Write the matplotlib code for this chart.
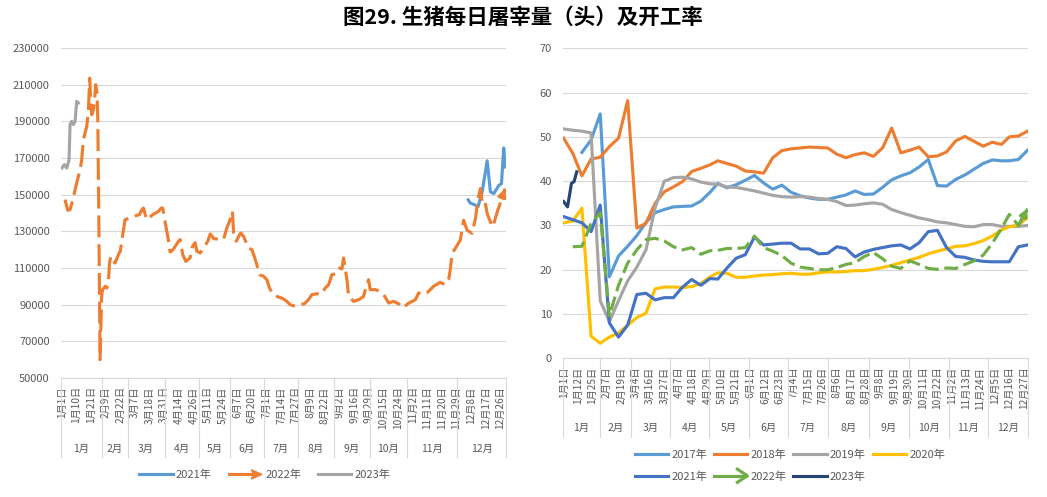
import matplotlib
matplotlib.use('Agg')
import matplotlib.pyplot as plt
import numpy as np
from matplotlib.legend_handler import HandlerBase
from matplotlib.lines import Line2D
from matplotlib.patches import Polygon

plt.rcParams['font.family'] = ['Noto Sans CJK SC', 'DejaVu Sans']

nan = np.nan
TXT = '#595959'
GRID = '#D9D9D9'

# ---------------- left: daily slaughter (head) ----------------
left_dates = ['1月1日', '1月10日', '1月21日', '2月9日', '2月22日', '3月7日', '3月18日',
              '3月31日', '4月14日', '4月26日', '5月11日', '5月24日', '6月7日', '6月20日',
              '7月1日', '7月14日', '7月27日', '8月9日', '8月22日', '9月2日', '9月16日',
              '9月29日', '10月15日', '10月24日', '11月2日', '11月11日', '11月20日',
              '11月29日', '12月8日', '12月17日', '12月26日']
months = ['1月', '2月', '3月', '4月', '5月', '6月', '7月', '8月', '9月', '10月', '11月', '12月']
left_month_edges = [-0.5, 24.5, 40.5, 63.5, 84.5, 103.5, 124.5, 145.5, 167.5, 189.5,
                    212.5, 243.5, 273.5]

# category index of each observation, value in head
kill21_x = [250.2, 251.4, 254.4, 256.3, 258.8, 261.9, 263.9, 266.0, 269.1, 270.7, 272.1, 273.0]
kill21 = [147200, 145500, 144400, 143500, 151500, 168500, 151500, 150600, 155100, 156000,
          175500, 165100]

kill22_x = [2.0, 3.7, 5.1, 6.6, 7.8, 9.2, 11.3, 12.3, 13.3, 15.4,
            16.4, 17.2, 17.8, 18.5, 19.5, 20.1, 20.9, 21.7, 22.2, 22.9,
            23.6, 24.6, 25.2, 26.7, 27.7, 28.7, 29.4, 30.2, 31.3, 32.8,
            34.9, 36.0, 37.0, 38.0, 39.0, 42.1, 44.1, 47.8, 49.3, 50.3,
            51.9, 52.4, 56.0, 59.5, 61.2, 62.2, 63.2, 65.7, 66.7, 68.5,
            71.9, 72.9, 74.5, 76.4, 79.0, 80.5, 82.1, 83.2, 85.2, 87.3,
            89.9, 91.4, 93.6, 99.6, 101.6, 103.3, 105.1, 105.8, 107.4, 109.5,
            110.3, 111.9, 115.0, 117.1, 118.5, 120.1, 121.8, 124.2, 126.3, 127.9,
            130.0, 132.4, 135.5, 138.6, 140.6, 143.7, 146.4, 149.3, 151.9, 154.0,
            157.1, 159.6, 162.2, 164.3, 166.3, 169.4, 171.1, 172.5, 173.5, 175.6,
            176.6, 179.7, 182.8, 185.8, 186.9, 188.9, 189.9, 193.0, 196.1, 198.2,
            201.3, 204.3, 207.4, 210.5, 212.9, 217.7, 219.7, 221.8, 224.8, 228.9,
            233.0, 236.1, 238.2, 239.3, 240.3, 241.3, 245.4, 247.4, 249.5, 252.6,
            254.7, 256.3, 257.7, 258.8, 260.4, 261.9, 263.9, 265.4, 268.1, 269.5,
            271.1, 273.0]
kill22 = [147300, 141500, 141800, 146400, 150900, 156400, 163600, 169100, 180000, 187300,
          195500, 213600, 201800, 193600, 196400, 200900, 210000, 205500, 190900, 130000,
          60000, 95500, 98200, 100000, 99100, 101800, 112700, 116400, 114500, 112700,
          117300, 119100, 124600, 130900, 136400, 137300, 138200, 139100, 141800, 142700,
          137300, 136400, 139100, 140900, 142700, 142700, 137300, 125000, 118700, 120000,
          124600, 125500, 117300, 113600, 115500, 121800, 123800, 119100, 118200, 120900,
          124600, 128600, 126000, 125500, 131800, 135500, 140900, 129100, 124600, 128200,
          129100, 127300, 120900, 120000, 116400, 111800, 106400, 105500, 103600, 99100,
          95500, 94500, 93600, 91800, 90000, 89100, 90000, 90500, 92700, 95500,
          96000, 95500, 99100, 100900, 106400, 106900, 110000, 109500, 115500, 103600,
          94500, 91800, 92700, 94500, 98200, 103600, 98200, 98200, 97300, 95500,
          90900, 91800, 90500, 88200, 90500, 92700, 96400, 95500, 96400, 100000,
          102200, 100900, 103600, 109900, 118000, 119300, 125300, 136100, 130700, 128900,
          137000, 147900, 153300, 146100, 147000, 139700, 135200, 132500, 140600, 144200,
          148800, 153300]

kill23_x = [0.0, 1.6, 3.1, 4.5, 5.1, 6.1, 7.2, 8.2, 9.2, 10.2]
kill23 = [164500, 166400, 164500, 169100, 188200, 190000, 188200, 190000, 200900, 200000]

# ---------------- right: operating rate (%) ----------------
right_dates = ['1月1日', '1月12日', '1月25日', '2月7日', '2月19日', '3月4日', '3月16日',
               '3月27日', '4月7日', '4月18日', '4月29日', '5月10日', '5月21日', '6月1日',
               '6月12日', '6月23日', '7月4日', '7月15日', '7月26日', '8月6日', '8月17日',
               '8月28日', '9月8日', '9月19日', '9月30日', '10月11日', '10月22日', '11月2日',
               '11月13日', '11月24日', '12月5日', '12月16日', '12月27日']
right_month_edges = [-0.5, 27.5, 51.5, 81.5, 111.5, 141.5, 171.5, 202.5, 233.5, 264.5,
                     294.5, 324.5, 355.5]

week_x = [0, 7, 14, 21, 28, 35, 42, 49, 56, 63, 70, 77, 84, 91, 98, 105, 112,
          118, 125, 132, 139, 146, 153, 160, 167, 174, 181, 188, 195, 202, 209, 216,
          223, 230, 237, 244, 251, 258, 265, 272, 279, 286, 293, 300, 307, 314, 321,
          328, 335, 341, 348, 355]

rate17 = [nan, nan, 46.5, 49.3, 55.2, 18.4, 23.1, 25.3, 27.7, 30.7, 32.9, 33.6, 34.2,
          34.3, 34.4, 35.5, 37.5, 39.5, 38.5, 39.2, 40.2, 41.3, 39.6, 38.2, 39.1, 37.5,
          36.7, 36.2, 35.9, 35.9, 36.4, 36.9, 37.8, 37.0, 37.1, 38.6, 40.3, 41.2, 41.9,
          43.2, 44.9, 39.0, 38.9, 40.4, 41.4, 42.7, 44.0, 44.8, 44.6, 44.6, 44.9, 47.0]
rate18 = [49.7, 46.3, 41.2, 45.0, 45.4, 47.8, 49.7, 58.2, 29.4, 30.5, 35.0, 37.6, 38.7,
          39.9, 42.2, 42.9, 43.7, 44.6, 44.0, 43.4, 42.3, 42.1, 41.8, 45.3, 46.9, 47.3,
          47.5, 47.7, 47.6, 47.5, 46.1, 45.3, 46.0, 46.4, 45.6, 47.5, 52.0, 46.4, 47.0,
          47.7, 45.5, 45.7, 46.6, 49.1, 50.1, 49.0, 47.9, 48.8, 48.3, 50.0, 50.2, 51.3]
rate19 = [51.8, 51.5, 51.3, 50.9, 13.0, 8.3, 13.0, 17.5, 20.6, 24.5, 34.0, 40.0, 40.8,
          40.9, 40.5, 39.8, 39.4, 39.3, 38.7, 38.6, 38.2, 37.8, 37.3, 36.8, 36.5, 36.4,
          36.5, 36.4, 36.1, 35.9, 35.4, 34.5, 34.6, 34.9, 35.1, 34.8, 33.6, 32.9, 32.3,
          31.7, 31.3, 30.8, 30.6, 30.2, 29.8, 29.7, 30.2, 30.2, 29.8, 29.8, 29.8, 30.0]
rate20 = [30.6, 31.0, 33.9, 5.0, 3.4, 4.8, 5.7, 7.5, 9.2, 10.2, 15.7, 16.1, 16.1,
          16.0, 16.2, 16.9, 18.4, 19.3, 19.2, 18.3, 18.3, 18.6, 18.8, 18.9, 19.1, 19.2,
          19.0, 19.0, 19.3, 19.5, 19.5, 19.6, 19.8, 19.8, 20.1, 20.5, 21.0, 21.6, 22.2,
          22.8, 23.6, 24.2, 24.7, 25.3, 25.4, 25.9, 26.6, 27.6, 29.0, 29.7, 30.1, 31.8]
rate21 = [32.0, 31.3, 30.6, 28.6, 34.6, 8.0, 4.8, 7.5, 14.4, 14.7, 13.2, 13.7, 13.7,
          16.1, 17.8, 16.5, 18.0, 17.9, 20.4, 22.6, 23.4, 27.4, 25.6, 25.8, 26.0, 26.0,
          24.7, 24.7, 23.6, 23.7, 25.2, 24.8, 22.9, 24.0, 24.6, 25.0, 25.4, 25.6, 24.7,
          26.1, 28.6, 28.9, 25.0, 23.0, 22.8, 22.2, 21.9, 21.8, 21.8, 21.8, 25.2, 25.6]
rate22 = [nan, 25.2, 25.3, 30.5, 32.9, 9.6, 16.5, 21.5, 24.5, 26.8, 27.1, 26.5, 25.2,
          24.5, 25.0, 23.5, 24.3, 24.4, 24.8, 24.8, 25.0, 27.6, 25.0, 24.2, 23.2, 21.5,
          20.6, 20.3, 20.0, 20.0, 20.5, 21.2, 21.6, 23.0, 23.9, 22.5, 20.8, 20.3, 22.0,
          21.2, 20.3, 20.1, 20.4, 20.3, 21.2, 22.0, 23.3, 26.0, 29.3, 32.5, 30.0, 33.8]
rate23_x = [0, 3, 6, 8, 10]
rate23 = [35.4, 34.2, 39.5, 39.9, 42.1]

C17, C18, C19, C20 = '#5B9BD5', '#ED7D31', '#A5A5A5', '#FFC000'
C21, C22, C23 = '#4472C4', '#70AD47', '#264478'
LW = 2.25


class ArrowHandler(HandlerBase):
    def __init__(self, filled=True):
        super().__init__()
        self.filled = filled

    def create_artists(self, legend, orig_handle, xdescent, ydescent, width, height,
                       fontsize, trans):
        c = orig_handle.get_color()
        y = height / 2 - ydescent
        x0, x1 = -xdescent, -xdescent + width
        if self.filled:
            hl, hw = width * 0.32, height * 0.6
            line = Line2D([x0, x1 - hl * 0.6], [y, y], color=c, lw=LW, transform=trans)
            head = Polygon([[x1 - hl, y + hw], [x1, y], [x1 - hl, y - hw],
                            [x1 - hl * 0.75, y]], closed=True, fc=c, ec=c, transform=trans)
            return [line, head]
        hl, hw = width * 0.3, height * 0.85
        line = Line2D([x0, x1 - 1], [y, y], color=c, lw=LW, transform=trans)
        head = Line2D([x1 - hl, x1, x1 - hl], [y + hw, y, y - hw], color=c, lw=LW,
                      transform=trans)
        return [line, head]


def style_axis(ax, dates, edges, lab_y, sep_y):
    ax.set_xlim(edges[0], edges[-1])
    step = 9 if len(dates) == 31 else 11
    ax.set_xticks([i * step for i in range(len(dates))])
    ax.set_xticklabels(dates, rotation=90, fontsize=7.3, color=TXT)
    ax.tick_params(axis='x', length=0, pad=6)
    ax.tick_params(axis='y', length=0, pad=8, labelsize=8, labelcolor=TXT)
    for s in ('top', 'right', 'left'):
        ax.spines[s].set_visible(False)
    ax.spines['bottom'].set_color(GRID)
    ax.spines['bottom'].set_linewidth(0.8)
    ax.yaxis.grid(True, color=GRID, lw=0.8)
    ax.set_axisbelow(True)
    tr = ax.get_xaxis_transform()
    for b in edges:
        ax.plot([b, b], [0, sep_y], transform=tr, clip_on=False, color=GRID, lw=0.8)
    for i, m in enumerate(months):
        ax.text((edges[i] + edges[i + 1]) / 2, lab_y, m, transform=tr, ha='center',
                va='center', fontsize=7.5, color=TXT)


fig = plt.figure(figsize=(10.47, 4.97), dpi=100)
fig.text(0.4995, 0.966, '图29. 生猪每日屠宰量（头）及开工率', ha='center', va='center',
         fontsize=15.5, fontweight='bold', color='black')

# left panel
axl = fig.add_axes([0.0582, 0.2394, 0.4251, 0.664])
axl.plot(kill21_x, kill21, color=C17, lw=LW)
axl.plot(kill22_x, kill22, color=C18, lw=LW, linestyle=(0, (7, 2.2)))
axl.annotate('', xy=(kill22_x[-1], kill22[-1]), xytext=(kill22_x[-2], kill22[-2]),
             arrowprops=dict(arrowstyle='-|>', color=C18, lw=LW, mutation_scale=11,
                             shrinkA=0, shrinkB=0))
axl.plot(kill23_x, kill23, color=C19, lw=LW)
axl.set_ylim(50000, 230000)
axl.set_yticks(np.arange(50000, 230001, 20000))
style_axis(axl, left_dates, left_month_edges, -0.215, -0.239)

h21 = Line2D([], [], color=C17, lw=LW)
h22 = Line2D([], [], color=C18, lw=LW)
h23 = Line2D([], [], color=C19, lw=LW)
fig.legend([h21, h22, h23], ['2021年', '2022年', '2023年'], loc='center',
           bbox_to_anchor=(0.253, 0.044), ncol=3, frameon=False, fontsize=8,
           handlelength=3.0, handletextpad=0.3, columnspacing=1.5, labelcolor=TXT,
           handler_map={h22: ArrowHandler(True)})

# right panel
axr = fig.add_axes([0.5377, 0.279, 0.4444, 0.6238])
axr.plot(week_x, rate17, color=C17, lw=LW)
axr.plot(week_x, rate18, color=C18, lw=LW)
axr.plot(week_x, rate19, color=C19, lw=LW)
axr.plot(week_x, rate20, color=C20, lw=LW)
axr.plot(week_x, rate21, color=C21, lw=LW)
axr.plot(week_x, rate22, color=C22, lw=LW, linestyle=(0, (4.5, 1.8)))
axr.annotate('', xy=(week_x[-1], rate22[-1]), xytext=(week_x[-2], rate22[-2]),
             arrowprops=dict(arrowstyle='-|>', color=C22, lw=LW, mutation_scale=11,
                             shrinkA=0, shrinkB=0))
axr.plot(rate23_x, rate23, color=C23, lw=LW)
axr.set_ylim(0, 70)
axr.set_yticks(np.arange(0, 71, 10))
style_axis(axr, right_dates, right_month_edges, -0.225, -0.254)

hs = {y: Line2D([], [], color=c, lw=LW) for y, c in
      zip(range(2017, 2024), [C17, C18, C19, C20, C21, C22, C23])}
order = [2017, 2021, 2018, 2022, 2019, 2023, 2020]
fig.legend([hs[y] for y in order], [f'{y}年' for y in order], loc='center',
           bbox_to_anchor=(0.7545, 0.063), ncol=4, frameon=False, fontsize=8,
           handlelength=3.0, handletextpad=0.3, columnspacing=0.6, labelspacing=1.0,
           labelcolor=TXT, handler_map={hs[2022]: ArrowHandler(False)})

fig.savefig('out.png', dpi=100)
